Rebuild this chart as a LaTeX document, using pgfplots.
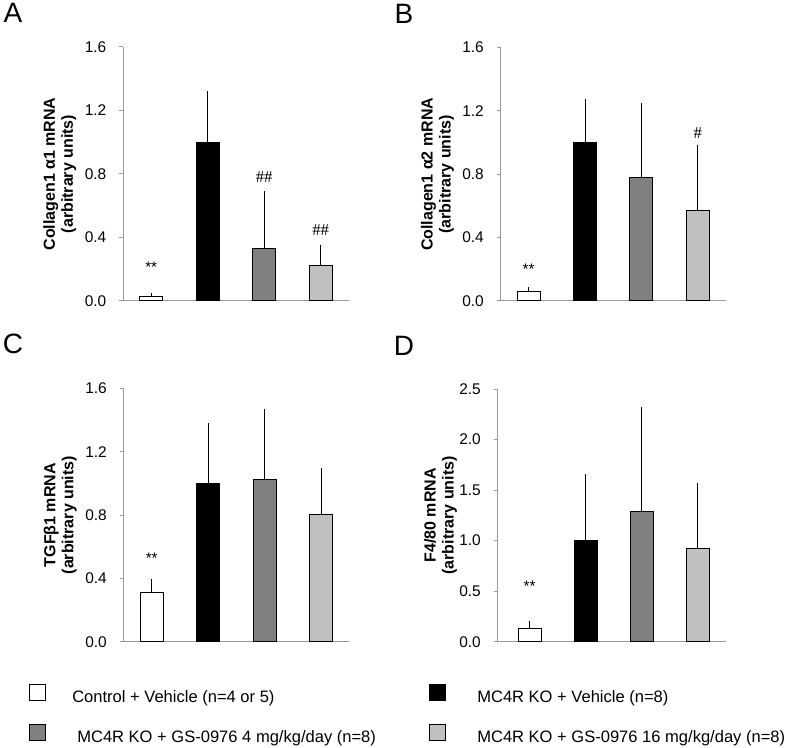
\documentclass[border=0pt]{standalone}
\usepackage{fontspec}
\setmainfont{Liberation Sans}
\newfontfamily\hashfont{Liberation Serif}
\usepackage{pgfplots}
\pgfplotsset{compat=1.18}
\definecolor{axgray}{HTML}{999999}
\definecolor{darkbar}{HTML}{808080}
\definecolor{lightbar}{HTML}{C0C0C0}
\pgfplotsset{
  panel/.style={
    scale only axis,
    axis x line=bottom, axis y line=left,
    axis line style={draw=axgray, line width=0.75pt, -},
    xmin=0.5, xmax=4.5, ymin=0,
    enlargelimits=false,
    xtick=\empty,
    tick align=outside, major tick length=3pt,
    ytick style={draw=axgray, line width=0.75pt},
    /pgf/number format/assume math mode=true,
    yticklabel={\fontsize{11.6}{13}\selectfont\pgfmathprintnumber[fixed,fixed zerofill,precision=1,assume math mode=true]{\tick}},
    yticklabel style={xshift=-6pt},
    ylabel style={font=\bfseries\fontsize{12}{13.5}\selectfont, align=center,
      at={(axis description cs:-0.28,0.5)}, anchor=center},
    clip=false,
  },
  bar/.style={ybar, bar shift=0pt, bar width=17.25pt, draw=black, line width=0.75pt,
    error bars/y dir=plus, error bars/y explicit,
    error bars/error bar style={black, line width=0.75pt},
    error bars/error mark options={black, mark size=1.5pt, line width=0.75pt}},
}
\newcommand{\sig}[2]{\node[font=\fontsize{11.5}{12}\selectfont] at (axis cs:#1,#2) {**};}
\newcommand{\hash}[3]{\node[font=\hashfont\fontsize{12.5}{14}\selectfont] at (axis cs:#1,#2) {#3};}
\begin{document}
\begin{tikzpicture}
\path[use as bounding box] (0pt,0pt) rectangle (591pt,-561pt);
\node[font=\fontsize{21}{24}\selectfont] at (9.75pt,-9.75pt) {A};
\node[font=\fontsize{21}{24}\selectfont] at (303pt,-10.5pt) {B};
\node[font=\fontsize{21}{24}\selectfont] at (9.75pt,-258pt) {C};
\node[font=\fontsize{21}{24}\selectfont] at (303pt,-259.5pt) {D};

% Panel A
\begin{axis}[panel, at={(92.25pt,-225.75pt)}, anchor=south west,
  width=169.5pt, height=190.5pt, ymax=1.6, ytick={0,0.4,0.8,1.2,1.6},
  ylabel={Collagen1 α1 mRNA\\(arbitrary units)}]
\addplot[bar, fill=white] coordinates {(1,0.03) +- (0,0.006)};
\addplot[bar, fill=black] coordinates {(2,1.0) +- (0,0.31)};
\addplot[bar, fill=darkbar] coordinates {(3,0.33) +- (0,0.35)};
\addplot[bar, fill=lightbar] coordinates {(4,0.222) +- (0,0.12)};
\sig{1}{0.21}
\hash{3}{0.78}{\#\#}
\hash{4}{0.45}{\#\#}
\end{axis}

% Panel B
\begin{axis}[panel, at={(375.375pt,-225.75pt)}, anchor=south west,
  width=169.125pt, height=190pt, ymax=1.6, ytick={0,0.4,0.8,1.2,1.6},
  ylabel={Collagen1 α2 mRNA\\(arbitrary units)}]
\addplot[bar, fill=white] coordinates {(1,0.06) +- (0,0.014)};
\addplot[bar, fill=black] coordinates {(2,1.0) +- (0,0.262)};
\addplot[bar, fill=darkbar] coordinates {(3,0.78) +- (0,0.457)};
\addplot[bar, fill=lightbar] coordinates {(4,0.57) +- (0,0.405)};
\sig{1}{0.2}
\hash{4}{1.06}{\#}
\end{axis}

% Panel C
\begin{axis}[panel, at={(92.625pt,-481.35pt)}, anchor=south west,
  width=169.5pt, height=190.05pt, ymax=1.6, ytick={0,0.4,0.8,1.2,1.6},
  ylabel={TGFβ1 mRNA\\(arbitrary units)},
  legend columns=2, legend cell align=left,
  legend image code/.code={\draw[#1, line width=0.75pt] (0pt,-2pt) rectangle (12pt,10pt);},
  legend style={at={(axis description cs:-0.418,-0.166)}, anchor=north west,
    draw=none, fill=none, inner sep=0pt, row sep=14pt,
    font=\fontsize{12.4}{14}\selectfont,
    nodes={inner sep=0pt},
    /tikz/every odd column/.append style={column sep=19.5pt}}]
\addplot[bar, fill=white, forget plot] coordinates {(1,0.31) +- (0,0.077)};
\addplot[bar, fill=black, forget plot] coordinates {(2,1.0) +- (0,0.366)};
\addplot[bar, fill=darkbar, forget plot] coordinates {(3,1.025) +- (0,0.43)};
\addplot[bar, fill=lightbar, forget plot] coordinates {(4,0.805) +- (0,0.28)};
\sig{1}{0.53}
\addlegendimage{fill=white, draw=black}
\addlegendentry{\makebox[267.75pt][l]{Control + Vehicle (n=4 or 5)}}
\addlegendimage{fill=black, draw=black}
\addlegendentry{\hspace{3.75pt}MC4R KO + Vehicle (n=8)}
\addlegendimage{fill=darkbar, draw=black}
\addlegendentry{\makebox[267.75pt][l]{\hspace{3.75pt}MC4R KO + GS-0976 4 mg/kg/day (n=8)}}
\addlegendimage{fill=lightbar, draw=black}
\addlegendentry{\hspace{3.75pt}MC4R KO + GS-0976 16 mg/kg/day (n=8)}
\end{axis}

% Panel D
\begin{axis}[panel, at={(373.125pt,-481.275pt)}, anchor=south west,
  width=171.375pt, height=189.5pt, xmin=0.43, ymax=2.5, ytick={0,0.5,1.0,1.5,2.0,2.5},
  ylabel style={at={(axis description cs:-0.25,0.5)}},
  ylabel={F4/80 mRNA\\(arbitrary units)}]
\addplot[bar, fill=white] coordinates {(1,0.13) +- (0,0.06)};
\addplot[bar, fill=black] coordinates {(2,1.0) +- (0,0.636)};
\addplot[bar, fill=darkbar] coordinates {(3,1.29) +- (0,1.01)};
\addplot[bar, fill=lightbar] coordinates {(4,0.92) +- (0,0.63)};
\sig{1}{0.55}
\end{axis}
\end{tikzpicture}
\end{document}
